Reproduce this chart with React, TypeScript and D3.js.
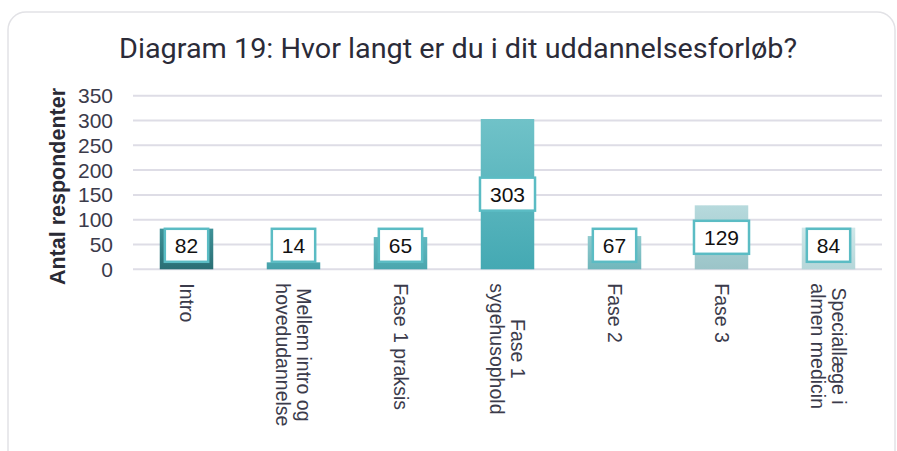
import React from "react";
import * as d3 from "d3";

const categories: string[][] = [
  ["Intro"],
  ["Mellem intro og", "hovedudannelse"],
  ["Fase 1 praksis"],
  ["Fase 1", "sygehusophold"],
  ["Fase 2"],
  ["Fase 3"],
  ["Speciallæge i", "almen medicin"],
];
const values: number[] = [82, 14, 65, 303, 67, 129, 84];
const yTicks: number[] = [0, 50, 100, 150, 200, 250, 300, 350];
const barTop: string[] = ["#3f9298", "#4ca6ae", "#62b8bf", "#70c2c8", "#90cace", "#b7dadd", "#cfe7e9"];
const barBottom: string[] = ["#2a6e74", "#45a0a9", "#4aa6ae", "#44a9b3", "#70b7bc", "#9bc4c8", "#b5d6d9"];

const W = 897;
const H = 451;
const title = "Diagram 19: Hvor langt er du i dit uddannelsesforløb?";
const yTitle = "Antal respondenter";
const labelSize = 19.5;
const labelFont = `${labelSize}px 'Liberation Sans', Arial, sans-serif`;

function measure(text: string, font: string): number {
  if (typeof document === "undefined") return text.length * 10;
  const c = document.createElement("canvas");
  const ctx = c.getContext("2d");
  if (!ctx) return text.length * 10;
  ctx.font = font;
  return ctx.measureText(text).width;
}

export default function App() {
  const x = d3
    .scaleBand<number>()
    .domain(values.map((_, i) => i))
    .range([133, 882])
    .paddingInner(0.5)
    .paddingOuter(0.25);
  const y = d3.scaleLinear().domain([0, 350]).range([269.3, 95.7]);
  const y0 = y(0);
  const bw = x.bandwidth();
  const lh = 21;

  return (
    <div style={{ position: "absolute", left: 0, top: 0 }}>
      <svg width={W} height={H} style={{ display: "block", background: "#fff" }}>
        <defs>
          {values.map((_, i) => (
            <linearGradient key={i} id={`g${i}`} x1="0" y1="0" x2="0" y2="1">
              <stop offset="0%" stopColor={barTop[i]} />
              <stop offset="100%" stopColor={barBottom[i]} />
            </linearGradient>
          ))}
        </defs>
        <rect x={8} y={12} width={887} height={470} rx={18} ry={18} fill="#fff" stroke="#e2e2e6" strokeWidth={1.5} />
        <text
          x={458}
          y={58}
          textAnchor="middle"
          fontFamily="Roboto, 'Open Sans', sans-serif"
          fontWeight={400}
          fontSize={28}
          fill="#2b2b38"
          textLength={678}
          lengthAdjust="spacingAndGlyphs"
        >
          {title}
        </text>
        {yTicks.map((t) => (
          <g key={t}>
            <line x1={133} x2={882} y1={y(t)} y2={y(t)} stroke="#dedde6" strokeWidth={2} />
            <text
              x={113}
              y={y(t)}
              dy="0.36em"
              textAnchor="end"
              fontFamily="'Liberation Sans', Arial, sans-serif"
              fontSize={21}
              fill="#3b3b4b"
            >
              {t}
            </text>
          </g>
        ))}
        <text
          transform={`translate(65,${(y(350) + y0) / 2 + 4}) rotate(-90)`}
          textAnchor="middle"
          fontFamily="'Liberation Sans', Arial, sans-serif"
          fontWeight="bold"
          fontSize={21.5}
          fill="#2a2a35"
        >
          {yTitle}
        </text>
        {values.map((v, i) => {
          const bx = x(i) as number;
          const top = y(v);
          return <rect key={i} x={bx} y={top} width={bw} height={y0 - top} fill={`url(#g${i})`} />;
        })}
        {values.map((v, i) => {
          const cx = (x(i) as number) + bw / 2;
          const cy = Math.min((y(v) + y0) / 2, y0 - 24);
          const s = String(v);
          const tw = measure(s, "21px 'Liberation Sans', Arial, sans-serif");
          const bwid = tw + 20;
          const bh = 33;
          return (
            <g key={i}>
              <rect
                x={cx - bwid / 2}
                y={cy - bh / 2}
                width={bwid}
                height={bh}
                fill="#fff"
                stroke="#5bbcc4"
                strokeWidth={2.5}
              />
              <text
                x={cx}
                y={cy}
                dy="0.36em"
                textAnchor="middle"
                fontFamily="'Liberation Sans', Arial, sans-serif"
                fontSize={21}
                fill="#111"
              >
                {s}
              </text>
            </g>
          );
        })}
        {categories.map((lines, i) => {
          const cx = (x(i) as number) + bw / 2;
          const maxW = Math.max(...lines.map((l) => measure(l, labelFont)));
          const n = lines.length;
          return (
            <g key={i} transform={`translate(${cx},${y0 + 14}) rotate(90)`}>
              {lines.map((l, j) => (
                <text
                  key={j}
                  x={maxW / 2}
                  y={(j - (n - 1) / 2) * lh}
                  dy="0.35em"
                  textAnchor="middle"
                  fontFamily="'Liberation Sans', Arial, sans-serif"
                  fontSize={labelSize}
                  fill="#3b3b4b"
                >
                  {l}
                </text>
              ))}
            </g>
          );
        })}
      </svg>
    </div>
  );
}
